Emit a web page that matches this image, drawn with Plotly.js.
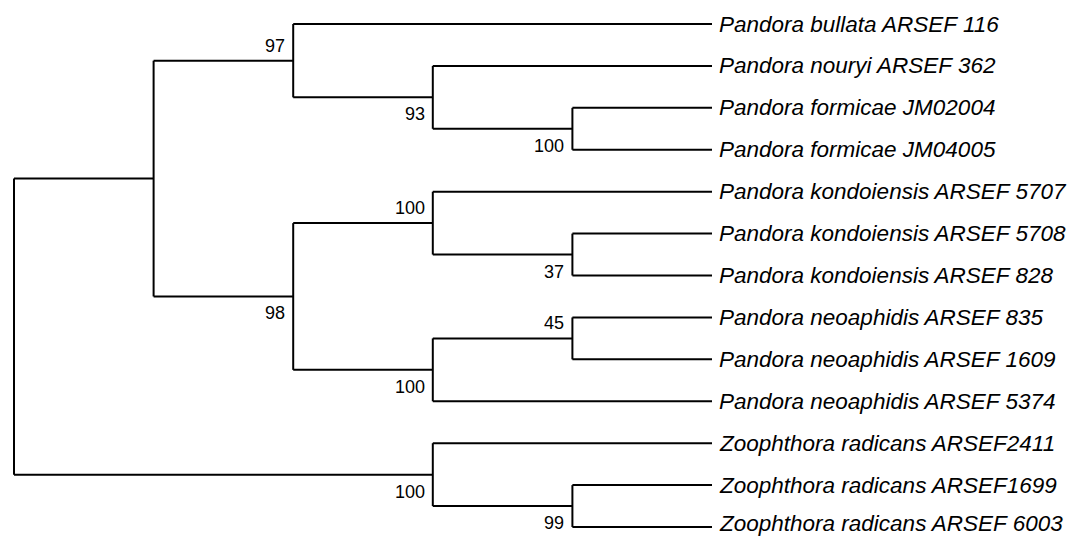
<!DOCTYPE html>
<html>
<head>
<meta charset="utf-8">
<script src="https://cdn.plot.ly/plotly-3.0.1.min.js"></script>
<style>html,body{margin:0;padding:0;background:#fff;}#chart{width:1075px;height:537px;}</style>
</head>
<body>
<div id="chart"></div>
<script>
// Leaf taxa, top to bottom
const taxa = [
  "Pandora bullata ARSEF 116",
  "Pandora nouryi ARSEF 362",
  "Pandora formicae JM02004",
  "Pandora formicae JM04005",
  "Pandora kondoiensis ARSEF 5707",
  "Pandora kondoiensis ARSEF 5708",
  "Pandora kondoiensis ARSEF 828",
  "Pandora neoaphidis ARSEF 835",
  "Pandora neoaphidis ARSEF 1609",
  "Pandora neoaphidis ARSEF 5374",
  "Zoophthora radicans ARSEF2411",
  "Zoophthora radicans ARSEF1699",
  "Zoophthora radicans ARSEF 6003"
];
// Internal nodes: children refer to leaves as "L<i>" and internal nodes as "N<i>"
const nodeChildren = [
  ["L2", "L3"],    // N0 formicae
  ["L1", "N0"],    // N1
  ["L0", "N1"],    // N2
  ["L5", "L6"],    // N3 kondoiensis
  ["L4", "N3"],    // N4
  ["L7", "L8"],    // N5 neoaphidis
  ["N5", "L9"],    // N6
  ["N4", "N6"],    // N7
  ["N2", "N7"],    // N8 Pandora
  ["L11", "L12"],  // N9 Zoophthora
  ["L10", "N9"],   // N10
  ["N8", "N10"]    // N11 root
];
const nodeSupport = ["100", "93", "97", "37", "100", "45", "100", "98", "", "99", "100", ""];
const supportSide = ["below", "below", "above", "below", "above", "above", "below", "below", "", "below", "below", ""];

// --- layout of the cladogram (leaves aligned) ---
const pos = {};
taxa.forEach((t, i) => { pos["L" + i] = {h: 0, y: i}; });
nodeChildren.forEach((ch, i) => {
  const a = pos[ch[0]], b = pos[ch[ch.length - 1]];
  const h = 1 + Math.max(...ch.map(c => pos[c].h));
  pos["N" + i] = {h: h, y: (a.y + b.y) / 2};
});
const maxH = pos["N" + (nodeChildren.length - 1)].h;
const X = k => maxH - pos[k].h;

const lx = [], ly = [];
nodeChildren.forEach((ch, i) => {
  const k = "N" + i, nx = X(k);
  const ys = ch.map(c => pos[c].y);
  lx.push(nx, nx, null); ly.push(Math.min(...ys), Math.max(...ys), null);
  ch.forEach(c => { lx.push(nx, X(c), null); ly.push(pos[c].y, pos[c].y, null); });
});

const annotations = [];
taxa.forEach((t, i) => {
  annotations.push({x: maxH, y: i, xref: "x", yref: "y", text: t, showarrow: false,
    xanchor: "left", yanchor: "middle", xshift: 5,
    yshift: i === taxa.length - 1 ? 4 : 0,
    font: {family: "Liberation Sans, Arial, sans-serif", size: 22.5, color: "#000", style: "italic"}});
});
nodeSupport.forEach((s, i) => {
  if (!s) return;
  const k = "N" + i;
  annotations.push({x: X(k), y: pos[k].y, xref: "x", yref: "y", text: s, showarrow: false,
    xanchor: "right", yanchor: "middle", xshift: -6,
    yshift: supportSide[i] === "above" ? 15 : -17,
    font: {family: "Liberation Sans, Arial, sans-serif", size: 18, color: "#000"}});
});

const unit = 139.6, x0 = 14;
const yTop = 24, yStep = 41.92;
const data = [{x: lx, y: ly, type: "scatter", mode: "lines",
  line: {color: "#000", width: 2, shape: "linear"}, hoverinfo: "skip", showlegend: false}];
const layout = {
  width: 1075, height: 537,
  margin: {l: 0, r: 0, t: 0, b: 0},
  paper_bgcolor: "#fff", plot_bgcolor: "#fff",
  xaxis: {range: [-x0 / unit, (1075 - x0) / unit], visible: false, fixedrange: true},
  yaxis: {range: [(537 - yTop) / yStep, -yTop / yStep], visible: false, fixedrange: true},
  annotations: annotations,
  showlegend: false
};
Plotly.newPlot("chart", data, layout, {displayModeBar: false, staticPlot: true});
</script>
</body>
</html>
